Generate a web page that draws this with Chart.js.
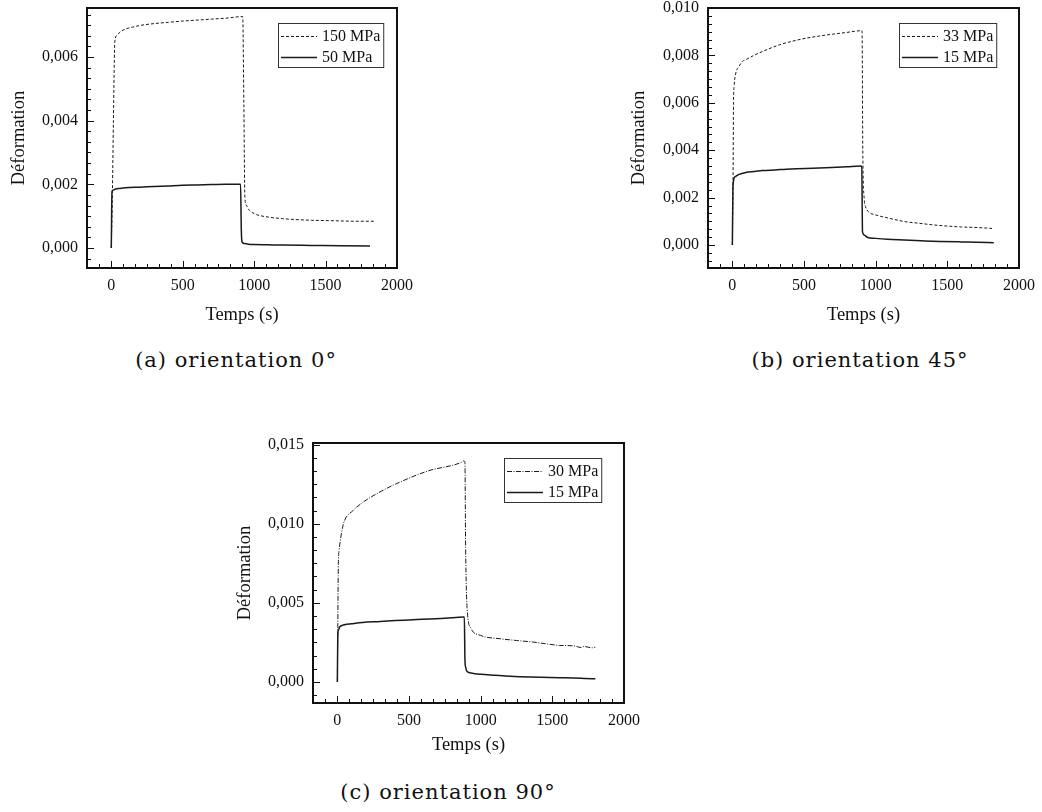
<!DOCTYPE html>
<html>
<head>
<meta charset="utf-8">
<script src="https://cdn.jsdelivr.net/npm/chart.js@4.4.1/dist/chart.umd.min.js"></script>
<style>
  body { margin: 0; background: #fff; }
  #page { position: relative; width: 1042px; height: 812px; overflow: hidden; }
  .box { position: absolute; }
  .cap { position: absolute; font-family: "DejaVu Serif", serif; font-size: 21px; letter-spacing: 1px;
         color: #111; white-space: nowrap; transform: translate(-50%, -50%); }
</style>
</head>
<body>
<div id="page">
  <div class="box" style="left:0px;top:0px;width:420px;height:330px"><canvas id="chA" width="420" height="330"></canvas></div>
  <div class="box" style="left:620px;top:0px;width:422px;height:330px"><canvas id="chB" width="422" height="330"></canvas></div>
  <div class="box" style="left:226px;top:430px;width:420px;height:330px"><canvas id="chC" width="420" height="330"></canvas></div>
  <div class="cap" style="left:236px;top:360px">(a) orientation 0°</div>
  <div class="cap" style="left:860px;top:360px">(b) orientation 45°</div>
  <div class="cap" style="left:448px;top:792px">(c) orientation 90°</div>
</div>
<script>
// axes
const xTicks = [0, 500, 1000, 1500, 2000];
const yTicksA = [0, 0.002, 0.004, 0.006];
const yTicksB = [0, 0.002, 0.004, 0.006, 0.008, 0.010];
const yTicksC = [0, 0.005, 0.010, 0.015];

// (a) orientation 0°
const tA150 = [0, 8, 15, 25, 40, 60, 100, 150, 200, 300, 400, 500, 600, 700, 800, 920, 928, 935, 945, 960, 1000, 1100, 1200, 1300, 1400, 1500, 1600, 1700, 1846];
const eA150 = [0, 0.0018, 0.0040, 0.0065, 0.00668, 0.00678, 0.00688, 0.00694, 0.00699, 0.00705, 0.00709, 0.00713, 0.00716, 0.00719, 0.00722, 0.00727, 0.0045, 0.0016, 0.00135, 0.00122, 0.00108, 0.00097, 0.00092, 0.00089, 0.00087, 0.00086, 0.00085, 0.00084, 0.00084];
const tA50 = [0, 5, 10, 30, 60, 100, 200, 300, 400, 500, 600, 700, 800, 905, 910, 915, 930, 960, 1000, 1100, 1200, 1400, 1600, 1811];
const eA50 = [0, 0.00176, 0.00181, 0.00185, 0.00187, 0.00189, 0.00191, 0.00193, 0.00195, 0.00197, 0.00198, 0.00199, 0.002, 0.002, 0.0006, 0.00019, 0.00014, 0.00012, 0.00011, 0.0001, 0.00009, 0.00008, 0.00007, 0.00006];

// (b) orientation 45°
const tB33 = [0, 5, 8, 12, 24, 47, 71, 94, 150, 212, 330, 420, 518, 610, 706, 800, 894, 905, 910, 920, 929, 950, 1000, 1100, 1200, 1300, 1400, 1500, 1600, 1700, 1812];
const eB33 = [0, 0.0029, 0.0060, 0.00669, 0.00725, 0.00754, 0.00775, 0.00782, 0.00800, 0.00817, 0.00845, 0.00860, 0.00873, 0.00882, 0.0089, 0.00897, 0.00904, 0.00904, 0.0040, 0.00195, 0.00162, 0.0014, 0.00127, 0.00112, 0.00099, 0.00092, 0.00085, 0.0008, 0.00076, 0.00074, 0.0007];
const tB15 = [0, 4, 8, 12, 25, 47, 94, 150, 212, 300, 376, 450, 560, 650, 730, 800, 894, 903, 908, 920, 940, 1000, 1082, 1200, 1318, 1450, 1600, 1700, 1824];
const eB15 = [0, 0.0024, 0.0027, 0.00283, 0.0029, 0.00298, 0.00306, 0.0031, 0.00314, 0.00317, 0.0032, 0.00322, 0.00324, 0.00326, 0.00328, 0.0033, 0.00333, 0.0033, 0.00055, 0.00042, 0.00033, 0.00028, 0.00024, 0.00021, 0.00018, 0.00015, 0.00013, 0.00012, 0.0001];

// (c) orientation 90°
const tC30 = [0, 3, 7, 12, 20, 35, 50, 108, 176, 290, 405, 634, 863, 881, 890, 895, 905, 931, 1000, 1137, 1250, 1366, 1450, 1549, 1650, 1700, 1720, 1778, 1800];
const eC30 = [0, 0.0035, 0.0075, 0.0083, 0.0089, 0.0097, 0.0102, 0.01082, 0.01134, 0.01197, 0.0125, 0.01334, 0.01387, 0.01397, 0.0139, 0.0085, 0.0047, 0.0034, 0.00294, 0.00273, 0.00262, 0.00252, 0.00242, 0.00231, 0.00228, 0.00218, 0.00224, 0.00216, 0.0022];
const tC15 = [0, 3, 8, 16, 50, 100, 176, 300, 405, 500, 634, 750, 881, 886, 890, 895, 908, 950, 1000, 1100, 1206, 1350, 1549, 1650, 1778, 1800];
const eC15 = [0, 0.003, 0.0033, 0.00347, 0.00362, 0.00368, 0.00376, 0.00382, 0.00388, 0.00392, 0.00398, 0.00402, 0.0041, 0.0041, 0.0015, 0.00094, 0.00063, 0.00054, 0.00048, 0.00042, 0.00036, 0.00031, 0.00027, 0.00025, 0.00021, 0.00021];

const INK = '#111';
const SERIF = "'Liberation Serif', 'Times New Roman', serif";

function pts(t, e) {
    return t.map((v, i) => ({ x: v, y: e[i] }));
}

// frame, inward ticks and boxed legend drawn on top of the plot
const framePlugin = {
    id: 'frame',
    afterDatasetsDraw(chart, args, opts) {
        const { ctx, chartArea: a, scales } = chart;
        ctx.save();
        ctx.strokeStyle = INK;
        ctx.lineWidth = 1;

        const drawTicks = (scale, majors, horizontal) => {
            const step = (majors[1] - majors[0]) / 6;
            let v = majors[0];
            while (v - step >= scale.min - 1e-12) v -= step;
            for (; v <= scale.max + 1e-12; v += step) {
                const isMajor = majors.some(m => Math.abs(m - v) < step * 0.01);
                const len = isMajor ? 7 : 4;
                const p = Math.round(scale.getPixelForValue(v)) + 0.5;
                ctx.beginPath();
                if (horizontal) {
                    ctx.moveTo(p, a.bottom);
                    ctx.lineTo(p, a.bottom - len);
                } else {
                    ctx.moveTo(a.left, p);
                    ctx.lineTo(a.left + len, p);
                }
                ctx.stroke();
            }
        };
        drawTicks(scales.x, opts.xTicks, true);
        drawTicks(scales.y, opts.yTicks, false);

        ctx.lineWidth = 2;
        ctx.strokeRect(a.left, a.top, a.right - a.left, a.bottom - a.top);

        // legend
        ctx.font = '16px ' + SERIF;
        const sets = chart.data.datasets;
        const left = a.left + 191;
        const top = a.top + 15;
        const textW = Math.max(...sets.map(d => ctx.measureText(d.label).width));
        const w = 44 + textW + 3;
        ctx.fillStyle = '#fff';
        ctx.fillRect(left, top, w, 44);
        ctx.lineWidth = 1;
        ctx.strokeStyle = '#333';
        ctx.strokeRect(left + 0.5, top + 0.5, w, 44);
        sets.forEach((d, i) => {
            const yy = top + 13 + i * 21;
            ctx.strokeStyle = d.borderColor;
            ctx.lineWidth = d.borderWidth;
            ctx.setLineDash(d.borderDash || []);
            ctx.beginPath();
            ctx.moveTo(left + 3, yy + 0.5);
            ctx.lineTo(left + 39, yy + 0.5);
            ctx.stroke();
            ctx.setLineDash([]);
            ctx.fillStyle = INK;
            ctx.textBaseline = 'middle';
            ctx.textAlign = 'left';
            ctx.fillText(d.label, left + 44, yy + 1);
        });
        ctx.restore();
    }
};

function makeChart(id, cfg) {
    const canvas = document.getElementById(id);
    const W = canvas.width, H = canvas.height;
    const A = cfg.area;
    const fmt = v => v.toFixed(3).replace('.', ',');
    return new Chart(canvas, {
        type: 'line',
        data: {
            datasets: cfg.series.map(s => ({
                label: s.label,
                data: pts(s.t, s.e),
                borderColor: '#1a1a1a',
                borderWidth: s.width,
                borderDash: s.dash,
                pointRadius: 0,
                fill: false,
                cubicInterpolationMode: 'monotone'
            }))
        },
        options: {
            responsive: false,
            animation: false,
            events: [],
            layout: { padding: { left: 4, top: A.top, right: W - A.right, bottom: 0 } },
            plugins: {
                legend: { display: false },
                tooltip: { enabled: false },
                frame: { xTicks: xTicks, yTicks: cfg.yTicks }
            },
            scales: {
                x: {
                    type: 'linear',
                    min: -170,
                    max: 2000,
                    afterBuildTicks: s => { s.ticks = xTicks.map(v => ({ value: v })); },
                    afterFit: s => { s.height = H - A.bottom; s.paddingLeft = 0; s.paddingRight = 0; },
                    grid: { display: false, drawTicks: false },
                    border: { display: false },
                    ticks: { color: INK, font: { family: SERIF, size: 16 }, padding: 8, maxRotation: 0, callback: v => String(v) },
                    title: { display: true, text: 'Temps (s)', color: INK, font: { family: SERIF, size: 18.5 }, padding: { top: 0, bottom: 4 } }
                },
                y: {
                    type: 'linear',
                    min: cfg.yMin,
                    max: cfg.yMax,
                    afterBuildTicks: s => { s.ticks = cfg.yTicks.map(v => ({ value: v })); },
                    afterFit: s => { s.width = A.left - 4; s.paddingTop = 0; s.paddingBottom = 0; },
                    grid: { display: false, drawTicks: false },
                    border: { display: false },
                    ticks: { color: INK, font: { family: SERIF, size: 16 }, padding: 9, callback: v => fmt(v) },
                    title: { display: true, text: 'Déformation', color: INK, font: { family: SERIF, size: 18.5 }, padding: { top: 4, bottom: 0 } }
                }
            }
        },
        plugins: [framePlugin]
    });
}

makeChart('chA', {
    area: { left: 87, top: 8, right: 397, bottom: 268 },
    yMin: -0.00063, yMax: 0.00754, yTicks: yTicksA,
    series: [
        { label: '150 MPa', t: tA150, e: eA150, dash: [3, 2], width: 1 },
        { label: '50 MPa', t: tA50, e: eA50, dash: [], width: 1.5 }
    ]
});

makeChart('chB', {
    area: { left: 88, top: 8, right: 399, bottom: 268 },
    yMin: -0.00097, yMax: 0.010, yTicks: yTicksB,
    series: [
        { label: '33 MPa', t: tB33, e: eB33, dash: [3, 2], width: 1 },
        { label: '15 MPa', t: tB15, e: eB15, dash: [], width: 1.5 }
    ]
});

makeChart('chC', {
    area: { left: 87, top: 13, right: 398, bottom: 273 },
    yMin: -0.00133, yMax: 0.0151, yTicks: yTicksC,
    series: [
        { label: '30 MPa', t: tC30, e: eC30, dash: [5, 1.5, 1, 1.5], width: 1 },
        { label: '15 MPa', t: tC15, e: eC15, dash: [], width: 1.5 }
    ]
});
</script>
</body>
</html>
